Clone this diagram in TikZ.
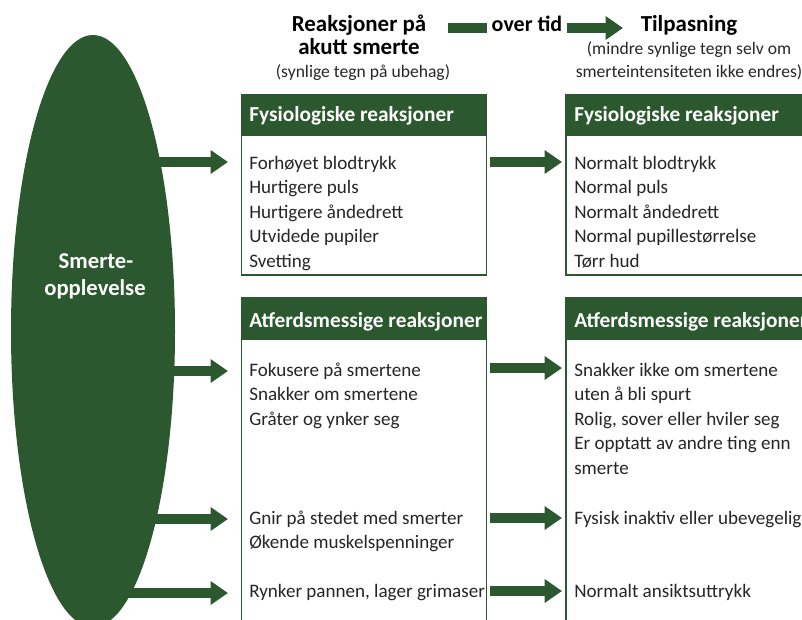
\documentclass[tikz,border=0pt]{standalone}
\usepackage{fontspec}
\setmainfont{Carlito}
\usetikzlibrary{arrows.meta,shapes.geometric}
\definecolor{dg}{RGB}{43,88,46}
\definecolor{txt}{RGB}{38,38,38}
\begin{document}
\begin{tikzpicture}[x=0.75pt,y=-0.75pt,
  bodytxt/.style={anchor=base west, inner sep=0pt, font=\fontsize{14.3}{18}\selectfont, text=txt},
  headtxt/.style={anchor=base west, inner sep=0pt, font=\bfseries\fontsize{16}{19}\selectfont, text=white},
  titletxt/.style={anchor=base, inner sep=0pt, font=\bfseries\fontsize{17.2}{20}\selectfont, text=black},
  subtxt/.style={anchor=base, inner sep=0pt, font=\fontsize{13.2}{16}\selectfont, text=txt},
  boxframe/.style={draw=dg, line width=1.3pt, fill=white, anchor=north west, inner sep=0pt, outer sep=0pt},
  headband/.style={fill=dg, anchor=north west, inner sep=0pt, outer sep=0pt},
  bigarrow/.style={draw=dg, line width=7.5pt, -{Triangle[length=13pt,width=17pt]}},
  shaftline/.style={draw=dg, line width=7.5pt},
]
\useasboundingbox (0,0) rectangle (802,619);
\clip (0,0) rectangle (802,619);

% headings
\node[titletxt] (h1a) at (359,31) {Reaksjoner på};
\node[titletxt] (h1b) at (359,54) {akutt smerte};
\node[subtxt] (h1c) at (363,77) {(synlige tegn på ubehag)};
\node[titletxt] (h2a) at (689,31) {Tilpasning};
\node[subtxt] (h2b) at (689,54) {(mindre synlige tegn selv om};
\node[subtxt] (h2c) at (689,77) {smerteintensiteten ikke endres)};

% top arrow
\coordinate (ta0) at (448,28);
\coordinate (ta1) at (623,28);
\node[titletxt, font=\bfseries\fontsize{16.5}{20}\selectfont, minimum width=80*0.75pt, inner xsep=0pt] (ot) at (527,31.5) {over tid};
\draw[shaftline] (ta0) -- (ot.west |- ta0);
\draw[bigarrow] (ot.east |- ta0) -- (ta1);

% ellipse
\node[ellipse, fill=dg, minimum width=164*0.75pt, minimum height=592*0.75pt, inner sep=0pt] (sm) at (93,331) {};
\node[anchor=base, inner sep=0pt, font=\bfseries\fontsize{17}{19}\selectfont, text=white] (sm1) at (96,268) {Smerte-};
\node[anchor=base, inner sep=0pt, font=\bfseries\fontsize{17}{19}\selectfont, text=white] (sm2) at (95,295) {opplevelse};

% boxes
\node[boxframe, minimum width=245*0.75pt, minimum height=180*0.75pt] (L1) at (241.5,95) {};
\node[headband, minimum width=245*0.75pt, minimum height=41*0.75pt] (L1h) at (241.5,95) {};
\node[boxframe, minimum width=280*0.75pt, minimum height=180*0.75pt] (R1) at (566,95) {};
\node[headband, minimum width=280*0.75pt, minimum height=41*0.75pt] (R1h) at (566,95) {};
\node[boxframe, minimum width=245*0.75pt, minimum height=360*0.75pt] (L2) at (241.5,298) {};
\node[headband, minimum width=245*0.75pt, minimum height=42*0.75pt] (L2h) at (241.5,298) {};
\node[boxframe, minimum width=280*0.75pt, minimum height=360*0.75pt] (R2) at (566,298) {};
\node[headband, minimum width=280*0.75pt, minimum height=42*0.75pt] (R2h) at (566,298) {};

\node[headtxt] (L1t) at (249,121) {Fysiologiske reaksjoner};
\node[headtxt] (R1t) at (574,121) {Fysiologiske reaksjoner};
\node[headtxt] (L2t) at (249,327) {Atferdsmessige reaksjoner};
\node[headtxt] (R2t) at (574,327) {Atferdsmessige reaksjoner};

% box texts
\foreach \t [count=\i] in {Forhøyet blodtrykk, Hurtigere puls, Hurtigere åndedrett, Utvidede pupiler, Svetting}
  \node[bodytxt] (a\i) at (249,{169+24.5*(\i-1)}) {\t};
\foreach \t [count=\i] in {Normalt blodtrykk, Normal puls, Normalt åndedrett, Normal pupillestørrelse, Tørr hud}
  \node[bodytxt] (b\i) at (574,{169+24.5*(\i-1)}) {\t};
\foreach \t [count=\i] in {Fokusere på smertene, Snakker om smertene, Gråter og ynker seg}
  \node[bodytxt] (c\i) at (249,{376+24.5*(\i-1)}) {\t};
\node[bodytxt] (c4) at (249,524) {Gnir på stedet med smerter};
\node[bodytxt] (c5) at (249,548.5) {Økende muskelspenninger};
\node[bodytxt] (c6) at (249,597) {Rynker pannen, lager grimaser};
\foreach \t [count=\i] in {Snakker ikke om smertene, uten å bli spurt, {Rolig, sover eller hviler seg}, Er opptatt av andre ting enn, smerte}
  \node[bodytxt] (d\i) at (574,{376+24.5*(\i-1)}) {\t};
\node[bodytxt] (d6) at (574,524) {Fysisk inaktiv eller ubevegelig};
\node[bodytxt] (d7) at (574,597) {Normalt ansiktsuttrykk};

% arrows from ellipse
\coordinate (e1) at (228,162);
\coordinate (e2) at (228,371);
\coordinate (e3) at (228,519);
\coordinate (e4) at (228,593);
\foreach \e in {e1,e2,e3,e4}
  \draw[bigarrow] (sm.center |- \e) -- (\e);

% arrows between boxes
\coordinate (m1) at (490,162);
\coordinate (m2) at (490,368);
\coordinate (m3) at (490,518);
\coordinate (m4) at (490,591);
\draw[bigarrow, shorten >=3pt] (m1) -- (R1.west |- m1);
\draw[bigarrow, shorten >=3pt] (m2) -- (R2.west |- m2);
\draw[bigarrow, shorten >=3pt] (m3) -- (R2.west |- m3);
\draw[bigarrow, shorten >=3pt] (m4) -- (R2.west |- m4);
\end{tikzpicture}
\end{document}
